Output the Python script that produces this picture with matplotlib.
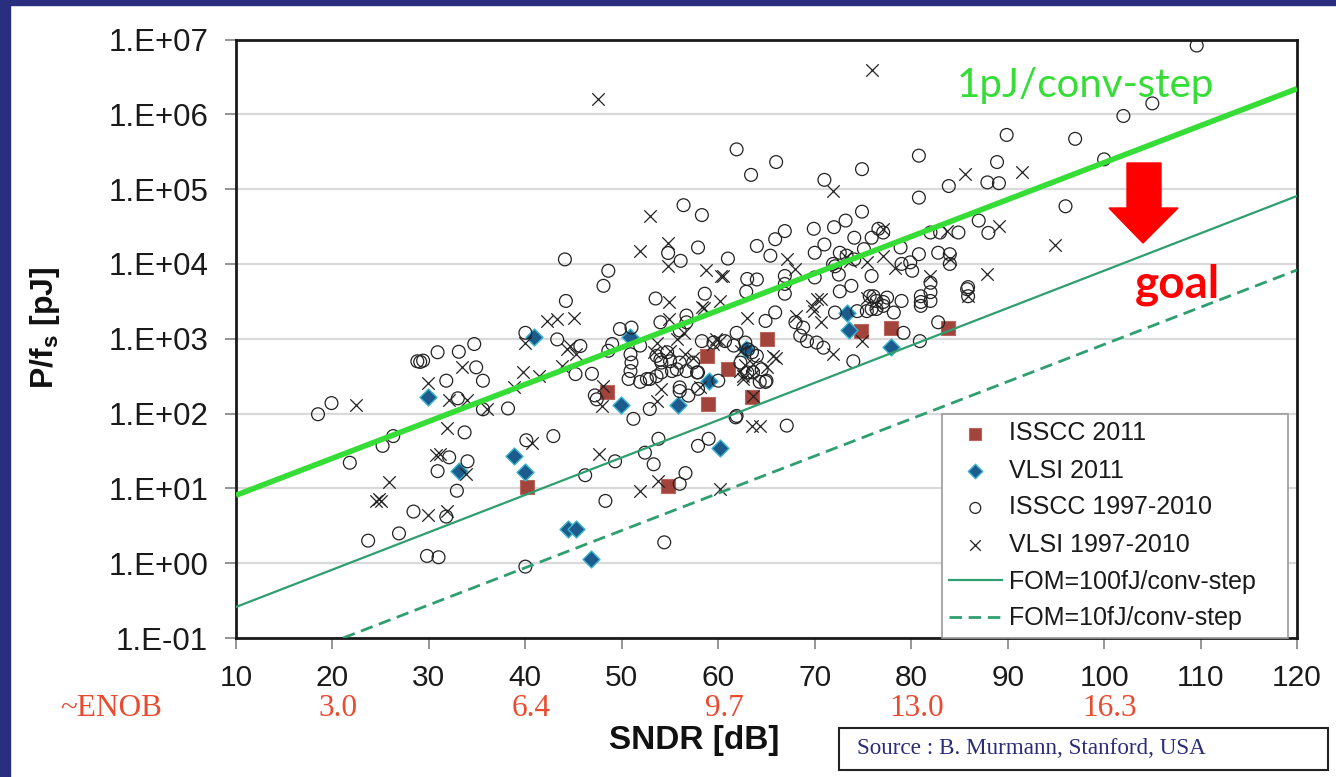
import numpy as np
import matplotlib
matplotlib.use("Agg")
import matplotlib.pyplot as plt
import matplotlib.transforms as mtransforms
from matplotlib.patches import Rectangle, Polygon
from matplotlib.ticker import FixedLocator, FuncFormatter, NullLocator

plt.rcParams['font.family'] = ['Liberation Sans', 'DejaVu Sans']
plt.rcParams['mathtext.fontset'] = 'custom'
plt.rcParams['mathtext.rm'] = 'Liberation Sans'
plt.rcParams['mathtext.bf'] = 'Liberation Sans:bold'

# ---- data (SNDR in dB, P/fs in pJ) ----
isscc11_sndr = [48.5, 40.2, 54.8, 58.8, 58.9, 61.0, 63.5, 65.0, 74.8, 77.9, 83.8]
isscc11_pfs = [195, 10.5, 10.7, 590, 134, 390, 165, 1000, 1260, 1400, 1400]

vlsi11_sndr = [29.9, 33.1, 38.8, 40.0, 40.9, 44.4, 45.2, 46.8, 49.9, 50.9, 55.8,
               59.0, 60.2, 62.9, 73.3, 73.6, 77.9]
vlsi11_pfs = [166, 17, 27, 16.5, 1050, 2.85, 2.85, 1.13, 130, 1050, 130,
              275, 35, 720, 2240, 1320, 770]

isscc_old_sndr = [
    18.5, 19.9, 21.8, 25.2, 26.3, 23.7, 26.9, 28.4, 29.8, 31.0, 31.8, 30.9, 32.9, 32.1,
    34.0, 33.7, 35.6, 33.0, 31.8, 28.8, 29.1, 29.4, 30.9, 33.1, 34.7, 34.9, 35.6,
    40.0, 44.1, 44.2, 43.3, 45.7, 45.2, 46.9, 48.1, 48.6, 38.2, 47.2, 47.4, 48.6, 49.0,
    50.9, 51.0, 50.9, 50.7, 51.9, 51.9, 52.9, 51.2, 52.9, 53.6, 54.1, 54.7, 55.0, 54.1,
    55.2, 56.0, 56.7, 57.4, 57.9, 56.0, 56.9, 59.5, 60.7, 60.0, 40.1, 42.9, 49.3, 46.2,
    48.3, 52.4, 53.8, 53.3, 56.6, 57.9, 59.0, 54.4, 40.0, 56.0, 61.9, 67.1,
    56.4, 58.3, 61.9, 63.4, 66.0, 74.9, 71.0, 74.9, 76.6, 77.1, 54.8, 56.1, 57.9, 61.0,
    63.0, 64.0, 58.6, 62.9, 53.5, 65.9, 64.9, 66.9, 65.9, 64.0, 65.4, 66.9, 66.9, 66.9,
    69.9, 71.0, 72.0, 73.2, 74.1, 75.1, 70.0, 71.9, 72.6, 70.0, 75.9, 72.6, 73.8, 76.1,
    77.1, 76.4, 72.1, 74.4, 75.4, 68.0, 68.8, 68.5, 69.2, 70.2, 70.9, 74.0,
    80.8, 80.8, 83.9, 75.9, 78.9, 73.3, 74.1, 79.0, 79.9, 80.1, 80.8, 82.0, 83.0, 84.9,
    82.8, 84.0, 84.0, 82.0, 82.0, 81.0, 81.0, 82.0, 81.0, 85.8, 75.7, 76.4, 77.5, 77.1,
    78.2, 79.0, 75.9, 72.5, 72.1, 109.6, 105.0, 102.0, 97.0, 100.0, 89.9, 88.9, 87.9,
    89.1, 96.0, 87.0, 88.0, 85.9, 85.9, 82.8, 80.9, 79.2,
    52.6, 53.6, 54.0, 55.7, 57.8, 56.0, 57.9, 58.3, 61.9, 61.6, 62.3, 63.0, 63.6, 64.3,
    64.9, 54.0, 56.7, 56.7, 56.0, 49.8, 51.0, 64.5, 65.0, 61.8, 62.8, 63.1, 63.5, 64.0,
]
isscc_old_pfs = [
    98, 138, 22, 37, 50, 2.0, 2.5, 4.9, 1.25, 1.2, 4.2, 17, 9.3, 26,
    23, 56, 114, 160, 275, 500, 490, 510, 660, 670, 850, 415, 275,
    1200, 11500, 3200, 980, 800, 337, 340, 5100, 8100, 117, 175, 155, 690, 850,
    620, 480, 370, 290, 810, 265, 290, 85, 115, 590, 480, 660, 500, 355,
    370, 480, 370, 480, 355, 200, 174, 890, 930, 275, 44, 50, 23, 15,
    6.8, 30, 46, 21, 16, 37, 46, 1.9, 0.9, 11.5, 93, 69,
    61000, 45000, 340000, 155000, 230000, 185000, 133000, 50000, 29500, 26300, 14000, 11000, 16600, 11800,
    6300, 6200, 4000, 4250, 3450, 2250, 1730, 27500, 21400, 17400, 12900, 6900, 5400, 4000,
    29500, 18200, 31000, 38000, 22400, 15800, 14100, 10000, 14100, 6600, 6900, 4300, 5100, 3700,
    3100, 2500, 2240, 2340, 2340, 1660, 1410, 1100, 930, 890, 760, 500,
    280000, 77000, 110000, 22400, 16600, 12900, 11500, 10000, 10500, 8100, 13500, 26300, 26300, 26300,
    14100, 13500, 10000, 5600, 4200, 3700, 3100, 3200, 2750, 4600, 3700, 3200, 3550, 2750,
    2240, 3200, 2500, 7200, 9300, 8.3e6, 1.4e6, 9.5e5, 4.7e5, 2.5e5, 5.3e5, 2.3e5, 1.23e5,
    1.2e5, 5.9e4, 3.8e4, 2.6e4, 4900, 3700, 1660, 930, 1200,
    290, 316, 525, 390, 355, 224, 214, 930, 1200, 810, 480, 355, 355, 265,
    265, 1660, 2040, 1660, 1290, 1350, 1410, 390, 275, 89, 890, 720, 660, 590,
]

vlsi_old_sndr = [
    22.4, 25.9, 24.5, 25.0, 24.8, 29.9, 31.9, 30.7, 31.2, 33.8, 31.9, 32.1, 33.9, 29.9,
    33.4, 40.0, 42.2, 43.3, 45.0, 44.3, 39.8, 41.4, 47.5, 75.9, 71.9, 54.8, 54.8, 51.9,
    52.9, 58.7, 60.3, 54.9, 58.5, 63.0, 67.1, 68.0, 70.6, 69.9, 70.6, 71.9, 74.9, 66.0,
    73.2, 73.7, 44.6, 45.2, 43.8, 38.8, 48.1, 47.9, 53.6, 55.7, 56.6, 57.4, 58.1, 54.1,
    40.7, 47.6, 51.9, 53.8, 60.2, 63.5, 64.3, 36.0, 85.6, 91.5, 83.7, 77.1, 77.1, 78.3,
    84.0, 82.0, 75.4, 76.4, 70.2, 68.1, 69.7, 60.2, 60.5, 89.1, 94.9, 87.9, 85.9, 59.5,
    59.8, 62.6, 63.5, 63.6, 62.4, 53.6, 53.3, 55.0, 65.7, 65.0, 62.3, 62.6, 62.8, 63.6,
    56.4, 58.3, 60.2, 54.9, 75.4,
]
vlsi_old_pfs = [
    130, 12, 6.8, 6.8, 7.2, 4.4, 5.0, 28, 29, 15.5, 65, 150, 150, 260,
    415, 890, 1740, 1820, 1900, 725, 355, 318, 1.6e6, 3.9e6, 95000, 19000, 9400, 15000,
    44000, 8300, 6800, 3100, 2600, 1900, 11500, 8500, 3400, 2340, 1660, 620, 930, 560,
    12300, 11000, 800, 620, 436, 224, 234, 126, 148, 980, 620, 560, 224, 214,
    41, 29, 9.3, 12.6, 9.8, 69, 69, 115, 1.6e5, 1.7e5, 27500, 29500, 12900, 8900,
    11500, 6900, 3550, 2900, 3400, 2040, 2750, 3200, 6900, 32000, 18000, 7300, 3700, 850,
    980, 320, 320, 460, 690, 890, 660, 690, 590, 415, 370, 290, 440, 174,
    1200, 2630, 930, 1860, 10500,
]

# FOM reference lines (end points)
fom_sndr = [10, 120]
fom_1pj = [8.1, 2.2e6]
fom_100fj = [0.26, 8.1e4]
fom_10fj_sndr = [21.1, 120]
fom_10fj = [0.1, 8.3e3]

enob_sndr = [20, 40, 60, 80, 100]
enob_labels = ['3.0', '6.4', '9.7', '13.0', '16.3']

W, H = 1336, 777
fig = plt.figure(figsize=(W / 100, H / 100), dpi=100)
fig.patch.set_facecolor('white')

# slide frame (dark blue on top and left)
navy = '#2a2e7e'
fig.patches.append(Rectangle((0, 0), 10 / W, 1, transform=fig.transFigure, color=navy, zorder=0))
fig.patches.append(Rectangle((0, 1 - 5 / H), 1, 5 / H, transform=fig.transFigure, color=navy, zorder=0))

ax = fig.add_axes([236 / W, 1 - 638 / H, (1297 - 236) / W, (638 - 39.5) / H])
ax.set_yscale('log')
ax.set_xlim(10, 120)
ax.set_ylim(0.1, 1e7)

ax.xaxis.set_major_locator(FixedLocator(range(10, 121, 10)))
ax.yaxis.set_major_locator(FixedLocator([10.0 ** k for k in range(-1, 8)]))
ax.yaxis.set_minor_locator(NullLocator())
ax.yaxis.set_major_formatter(FuncFormatter(lambda v, p: '1.E%+03d' % int(round(np.log10(v)))))
ax.tick_params(axis='both', direction='out', length=8, width=1.3, color='#8c8c8c',
               labelcolor='#1a1a1a')
ax.tick_params(axis='x', pad=11, labelsize=21.5)
ax.tick_params(axis='y', pad=12, labelsize=22.5)
ax.yaxis.grid(True, color='#d9d9d9', lw=1.6, zorder=0)
ax.set_axisbelow(True)
for sp in ax.spines.values():
    sp.set_linewidth(2)
    sp.set_color('#1a1a1a')

# markers
ax.scatter(isscc11_sndr, isscc11_pfs, marker='s', s=115, facecolor='#a2443c',
           edgecolor='#b8665e', lw=0.8, zorder=3, label='ISSCC 2011')
ax.scatter(vlsi11_sndr, vlsi11_pfs, marker='D', s=75, facecolor='#1d5b8c',
           edgecolor='#3ab6d2', lw=1.0, zorder=4, label='VLSI 2011')
ax.scatter(isscc_old_sndr, isscc_old_pfs, marker='o', s=85, facecolor='none',
           edgecolor='#222222', lw=0.9, zorder=5, label='ISSCC 1997-2010')
ax.scatter(vlsi_old_sndr, vlsi_old_pfs, marker='x', s=80, color='#222222',
           lw=0.9, zorder=6, label='VLSI 1997-2010')

# FOM lines
ax.plot(fom_sndr, fom_100fj, color='#2f9e70', lw=1.6, zorder=7, label='FOM=100fJ/conv-step')
ax.plot(fom_10fj_sndr, fom_10fj, color='#2f9e70', lw=2.0, ls=(0, (4.5, 2.4)), zorder=7,
        label='FOM=10fJ/conv-step')
ax.plot(fom_sndr, fom_1pj, color='#36dd36', lw=4.0, zorder=8, solid_capstyle='butt')

leg = ax.legend(loc='lower left', bbox_to_anchor=(0.665, 0.0, 0.3265, 0.378), mode='expand',
                borderaxespad=0, fontsize=18, fancybox=False, edgecolor='#9a9a9a',
                handlelength=2.1, handletextpad=0.3, labelspacing=0.52, borderpad=0.3,
                framealpha=1, markerscale=0.85)
leg.get_frame().set_linewidth(1.2)
leg.set_zorder(20)
for t in leg.get_texts():
    t.set_color('#1a1a1a')

# axis titles
fig.text(694 / W, 1 - 741 / H, 'SNDR [dB]', fontsize=24, fontweight='bold',
         ha='center', va='center', color='#111111')
fig.text(45 / W, 1 - 328 / H, r'P/f$_{\mathbf{s}}$ [pJ]', fontsize=23, fontweight='bold',
         rotation=90, ha='center', va='center', color='#111111')

# ENOB row
enob_red = '#ea4a2e'
enob_y = 1 - 708 / H
trans = mtransforms.blended_transform_factory(ax.transData, fig.transFigure)
for xs, lab in zip(enob_sndr, enob_labels):
    ax.text(xs + 0.6, enob_y, lab, transform=trans, ha='center', va='center',
            fontsize=22.5, color=enob_red, family='Liberation Serif', clip_on=False)
fig.text(111 / W, enob_y, '~ENOB', ha='center', va='center', fontsize=22.5,
         color=enob_red, family='Liberation Serif')

# annotations
fig.text(1085 / W, 1 - 86 / H, '1pJ/conv-step', ha='center', va='center', fontsize=29,
         color='#36dd36', family='Lato')
fig.text(1177 / W, 1 - 297 / H, 'goal', ha='center', va='baseline', fontsize=33,
         fontweight='bold', color='#ff0000', family='Lato')
arrow_px = [(1127, 163), (1161, 163), (1161, 208), (1178, 208), (1143, 243),
            (1109, 208), (1127, 208)]
fig.patches.append(Polygon([(x / W, 1 - y / H) for x, y in arrow_px], closed=True,
                           transform=fig.transFigure, color='#ff0000', zorder=10))

# source box
fig.patches.append(Rectangle((839 / W, 1 - 770 / H), (1328 - 839) / W, 42 / H,
                             transform=fig.transFigure, facecolor='white',
                             edgecolor='#222222', lw=1.5, zorder=5))
fig.text(857 / W, 1 - 749 / H, 'Source : B. Murmann, Stanford, USA', ha='left', va='center',
         fontsize=16.7, color='#2b2d7a', family='Liberation Serif', zorder=6)

fig.savefig('out.png', dpi=100)
